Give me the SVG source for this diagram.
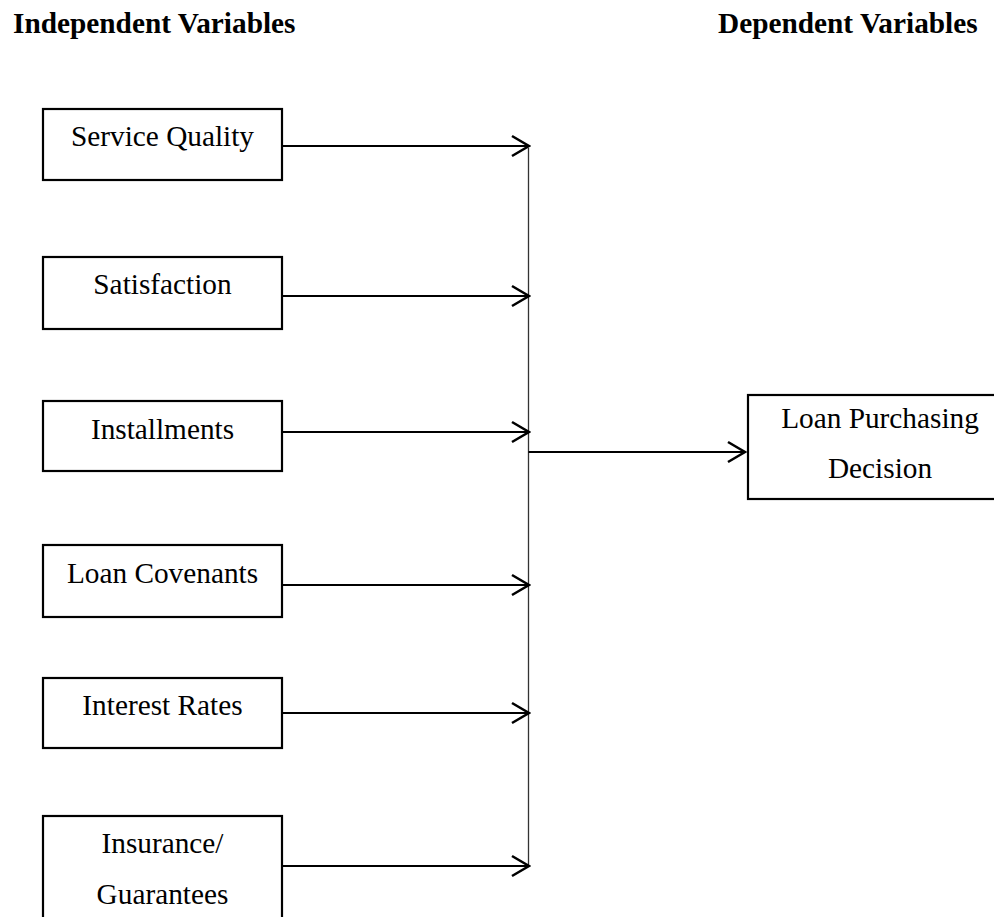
<svg xmlns="http://www.w3.org/2000/svg" width="994" height="917" viewBox="0 0 994 917">
<style>
.box{fill:#fff;stroke:#000;stroke-width:2.2}
.t{font-family:"Liberation Serif","Times New Roman",serif;font-size:29.3px;fill:#000;text-anchor:middle}
.h{font-family:"Liberation Serif","Times New Roman",serif;font-size:29.3px;font-weight:bold;fill:#000}
.c{stroke:#000;stroke-width:2.2;fill:none}
.v{stroke:#333;stroke-width:1.3;fill:none}
</style>
<defs>
<marker id="ah" markerUnits="userSpaceOnUse" viewBox="0 0 20 24" refX="18" refY="12" markerWidth="20" markerHeight="24" orient="auto">
<path d="M1,2 L18,12 L1,22" fill="none" stroke="#000" stroke-width="2.6"/>
</marker>
</defs>
<rect width="994" height="917" fill="#fff"/>
<text class="h" x="13" y="33">Independent Variables</text>
<text class="h" x="718" y="33">Dependent Variables</text>
<g id="n1"><rect class="box" x="43" y="109" width="239" height="71"/><text class="t" x="162.5" y="146">Service Quality</text></g>
<g id="n2"><rect class="box" x="43" y="257" width="239" height="72"/><text class="t" x="162.5" y="294">Satisfaction</text></g>
<g id="n3"><rect class="box" x="43" y="401" width="239" height="70"/><text class="t" x="162.5" y="439">Installments</text></g>
<g id="n4"><rect class="box" x="43" y="545" width="239" height="72"/><text class="t" x="162.5" y="583">Loan Covenants</text></g>
<g id="n5"><rect class="box" x="43" y="678" width="239" height="70"/><text class="t" x="162.5" y="715">Interest Rates</text></g>
<g id="n6"><rect class="box" x="43" y="816" width="239" height="120"/><text class="t" x="162.5" y="853">Insurance/</text><text class="t" x="162.5" y="904">Guarantees</text></g>
<g id="n7"><rect class="box" x="748" y="395" width="264" height="104"/><text class="t" x="880" y="428">Loan Purchasing</text><text class="t" x="880" y="478">Decision</text></g>
<g id="connectors">
<line class="v" x1="528.5" y1="148" x2="528.5" y2="866"/>
<line class="c" x1="282" y1="146" x2="529" y2="146" marker-end="url(#ah)"/>
<line class="c" x1="282" y1="296" x2="529" y2="296" marker-end="url(#ah)"/>
<line class="c" x1="282" y1="432" x2="529" y2="432" marker-end="url(#ah)"/>
<line class="c" x1="282" y1="585" x2="529" y2="585" marker-end="url(#ah)"/>
<line class="c" x1="282" y1="713" x2="529" y2="713" marker-end="url(#ah)"/>
<line class="c" x1="282" y1="866" x2="529" y2="866" marker-end="url(#ah)"/>
<line class="c" x1="528.5" y1="452" x2="745" y2="452" marker-end="url(#ah)"/>
</g>
</svg>
